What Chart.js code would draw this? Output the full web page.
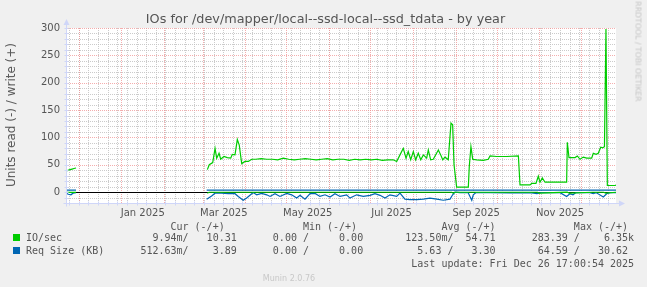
<!DOCTYPE html>
<html>
<head>
<meta charset="utf-8">
<title>IOs for /dev/mapper/local--ssd-local--ssd_tdata - by year</title>
<script src="https://cdn.jsdelivr.net/npm/chart.js@4.4.1/dist/chart.umd.min.js"></script>
<style>
    html, body { margin: 0; padding: 0; background: #f0f0f0; }
    #wrap { position: relative; width: 647px; height: 287px; overflow: hidden;
            font-family: "DejaVu Sans", sans-serif; color: #555; }
    #chart { position: absolute; left: 0; top: 0; }
    .title { position: absolute; left: 0; top: 11px; width: 651px; text-align: center;
             font-size: 12.8px; color: #555; }
    .ylabel { position: absolute; left: -89px; top: 108px; width: 200px; text-align: center;
              font-size: 12px; font-weight: normal; transform: rotate(-90deg); color: #5a5a5a; }
    .rrd { position: absolute; left: 583px; top: 47px; width: 110px; text-align: center;
           font-size: 7.8px; color: #c4c4c4; transform: rotate(90deg); }
    .leg { position: absolute; left: 26px; white-space: pre; font-family: "DejaVu Sans Mono", monospace;
           font-size: 10px; line-height: 12px; color: #555; }
    .sq { position: absolute; left: 13px; width: 7px; height: 7px; }
    .munin { position: absolute; left: 0; width: 578px; top: 274px; text-align: center;
             font-size: 8px; color: #c8c8c8; }
</style>
</head>
<body>
<div id="wrap">
    <canvas id="chart" width="647" height="287"></canvas>
    <div class="title">IOs for /dev/mapper/local--ssd-local--ssd_tdata - by year</div>
    <div class="ylabel">Units read (-) / write (+)</div>
    <div class="rrd">RRDTOOL / TOBI OETIKER</div>
    <div class="leg" id="legHead" style="top:221px"></div>
    <div class="sq" style="top:234px; background:#00cc00"></div>
    <div class="leg" id="legIo" style="top:232px"></div>
    <div class="sq" style="top:247px; background:#0066b3"></div>
    <div class="leg" id="legReq" style="top:245px"></div>
    <div class="leg" id="legUpd" style="top:258px"></div>
    <div class="munin">Munin 2.0.76</div>
</div>
<script>
// x values are days since the start of the graph (Nov 21 2024 17:00), 400 days to Dec 26 2025

// --------------------
// Data
// --------------------
const ioWriteDays = [
    0, 1.5, 2.9, 4.4, 5.8, 7.3, 50,
    102.8, 104.2, 106.7, 108.4, 109.6, 111.3, 112.5, 114.9, 117.3, 119.8, 120.9, 122.9,
    124.6, 126.0, 127.1, 127.8, 130.2, 132.6, 135.1,
    138, 142, 146, 150, 154, 158, 162, 166, 170, 174, 178, 182, 186, 190, 194, 198,
    202, 206, 210, 214, 218, 222, 226, 230, 234, 238, 240.5,
    242.9, 245.3, 247.3, 248.9, 250.7, 252.6, 254.3, 256.2, 258.0, 259.9, 262.3, 263.5,
    265.2, 267.1, 270.8, 272.5, 274.0, 275.6, 278.0, 280.0, 281.2, 282.2, 284.1,
    292.6, 293.3, 294.5, 295.8, 298.7, 303.5, 307.1, 308.4, 313.2, 320.5, 329.0, 330.2,
    337.5, 338.7, 341.8, 343.5, 344.7, 346.4, 348.4, 364.1, 364.6, 365.8, 370.2, 371.9,
    373.8, 376.2, 378.7, 382.3, 383.5, 385.5, 387.1, 388.9, 390.3, 391.6, 392.7, 393.7,
    399.3, 400
];
const ioWriteValues = [
    38, 40, 41, 42, 43, 44, null,
    41, 50, 54, 80, 62, 71, 60, 65, 63, 62, 69, 68,
    96, 86, 65, 52, 56, 56, 60,
    60, 61, 60, 60, 59, 62, 60, 59, 60, 61, 60, 59, 60, 61, 59, 60,
    60, 58, 60, 59, 60, 59, 60, 58, 59, 59, 56,
    68, 80, 62, 74, 59, 74, 59, 71, 59, 68, 62, 77,
    59, 60, 77, 68, 59, 64, 59, 126, 123, 50, 9,
    9, 47, 83, 60, 59, 58, 60, 66, 65, 65, 66, 13,
    13, 16, 16, 29, 18, 26, 18, 18, 91, 63, 63, 66,
    60, 64, 62, 62, 71, 69, 71, 82, 81, 83, 298, 12,
    12, 13
];

const ioReadDays = [0, 7.3, 50, 102.8, 104, 150, 200, 250, 280.5, 281.5, 283, 300, 343, 344, 364.5, 366, 383, 391, 392.5, 400];
const ioReadValues = [-0.5, -0.5, null, -2, -0.3, -0.3, -0.3, -0.3, -0.3, -2, -0.3, -0.3, -0.3, -2, -0.3, -2, -0.3, -0.3, -2, -0.3];

const reqWriteDays = [0, 7.3, 50, 102.3, 200, 300, 400];
const reqWriteValues = [3.6, 3.6, null, 3.6, 3.6, 3.6, 3.6];

const reqReadDays = [
    0, 1.7, 3.6, 5.1, 7.3, 50,
    102.3, 105.9, 108.4, 113.2, 118.0, 122.9, 125.3, 128.9, 131.4, 135.1, 136.2, 138.7,
    142.3, 146.0, 148.4, 152.0, 155.6, 160.5, 164.1, 167.8, 170.2, 173.8, 177.5, 181.1,
    184.7, 188.4, 192.0, 195.6, 199.3, 204.1, 206.5, 211.4, 216.2, 221.1, 224.7, 228.4,
    232.0, 235.6, 240.5, 242.9, 246.5, 250.2, 255.1, 259.9, 264.7, 269.6, 274.4, 279.3,
    281.2, 282.9, 286.5, 292.4, 295.1, 296.2, 298.2, 308.4, 322.9, 337.5, 342.5, 345.5,
    359.3, 364.1, 366.5, 368.7, 370.9, 381.1, 383.5, 385.5, 390.8, 393.2, 395.6, 400
];
const reqReadValues = [
    -2, -4, -5, -2, -1, null,
    -13, -7, -2, -2, -3, -3, -8, -15, -11, -3, -1, -5,
    -2.5, -5, -8, -3, -8, -2.5, -5, -11, -6, -13, -3, -2.5,
    -8, -5, -9, -3, -8, -5, -11, -5, -8, -6, -3, -6,
    -11, -5, -8, -2, -13, -14, -14, -13, -11, -13, -15, -13,
    -5, 0, -1, -1, -15, -5, -1, -1, -1.5, -1, -3, -1,
    -1, -8, -3, -5, -1, -1, -3, -1, -9, -3, -1, -1
];

// axis labels / grid positions
const monthLabels = ["Jan 2025", "Mar 2025", "May 2025", "Jul 2025", "Sep 2025", "Nov 2025"];
const monthLabelDays = [55.8, 114.8, 175.8, 236.8, 298.3, 359.3];
const monthStartDays = [9.29, 40.29, 71.29, 99.29, 130.29, 160.29, 191.29, 221.29, 252.29, 283.29, 313.29, 344.29, 374.29];
const firstSunday = 2.29;
const yTicks = [0, 50, 100, 150, 200, 250, 300];

// legend table
const legendHead = [[24, "Cur (-/+)"], [46, "Min (-/+)"], [69, "Avg (-/+)"], [91, "Max (-/+)"]];
const legendIo = [[0, "IO/sec"], [21, "9.94m/"], [30, "10.31"], [41, "0.00 /"], [52, "0.00"],
                  [63, "123.50m/"], [73, "54.71"], [84, "283.39 /"], [96, "6.35k"]];
const legendReq = [[0, "Req Size (KB)"], [19, "512.63m/"], [31, "3.89"], [41, "0.00 /"], [52, "0.00"],
                   [65, "5.63 /"], [74, "3.30"], [85, "64.59 /"], [95, "30.62"]];
const lastUpdate = [[64, "Last update: Fri Dec 26 17:00:54 2025"]];

function placeCols(items) {
    let s = "";
    items.forEach(([col, txt]) => {
        while (s.length < col) s += " ";
        s += txt;
    });
    return s;
}

document.getElementById("legHead").textContent = placeCols(legendHead);
document.getElementById("legIo").textContent = placeCols(legendIo);
document.getElementById("legReq").textContent = placeCols(legendReq);
document.getElementById("legUpd").textContent = placeCols(lastUpdate);

function pts(days, vals) {
    return days.map((d, i) => ({ x: d, y: vals[i] }));
}

// --------------------
// RRD style grid, zero line and axes
// --------------------
const rrdPlugin = {
    id: "rrdLook",
    beforeDatasetsDraw(chart) {
        const { ctx, chartArea: a, scales: { x, y } } = chart;
        const vline = px => { px = Math.round(px) + 0.5; ctx.beginPath(); ctx.moveTo(px, a.top); ctx.lineTo(px, a.bottom); ctx.stroke(); };
        const hline = py => { py = Math.round(py) + 0.5; ctx.beginPath(); ctx.moveTo(a.left, py); ctx.lineTo(a.right, py); ctx.stroke(); };
        ctx.save();
        ctx.fillStyle = "#ffffff";
        ctx.fillRect(a.left, a.top, a.right - a.left, a.bottom - a.top);
        ctx.lineWidth = 1;
        ctx.setLineDash([1, 1]);

        ctx.strokeStyle = "rgba(190,190,190,0.8)";
        for (let d = firstSunday; d < 400; d += 7) vline(x.getPixelForValue(d));
        for (let v = -10; v < 300; v += 10) {
            if (v % 50 !== 0) hline(y.getPixelForValue(v));
        }

        ctx.strokeStyle = "rgba(240,140,140,0.7)";
        monthStartDays.forEach(d => vline(x.getPixelForValue(d)));
        yTicks.forEach(v => hline(y.getPixelForValue(v)));

        // zero line
        ctx.setLineDash([]);
        ctx.strokeStyle = "#000000";
        hline(y.getPixelForValue(0));
        ctx.restore();
    },
    afterDraw(chart) {
        const { ctx, chartArea: a, scales: { x, y } } = chart;
        const left = Math.round(a.left) + 0.5;
        const bottom = Math.round(a.bottom) + 0.5;
        ctx.save();
        ctx.strokeStyle = "#cfd6f8";
        ctx.fillStyle = "#cfd6f8";
        ctx.lineWidth = 1;
        ctx.beginPath();
        ctx.moveTo(left, bottom + 3);
        ctx.lineTo(left, a.top - 4);
        ctx.moveTo(left - 3, bottom);
        ctx.lineTo(a.right + 4, bottom);
        // small ticks on the axes
        for (let v = -10; v <= 300; v += 10) {
            const py = Math.round(y.getPixelForValue(v)) + 0.5;
            ctx.moveTo(left - 2, py);
            ctx.lineTo(left + 2, py);
        }
        for (let d = firstSunday; d < 400; d += 7) {
            const px = Math.round(x.getPixelForValue(d)) + 0.5;
            ctx.moveTo(px, bottom - 2);
            ctx.lineTo(px, bottom + 2);
        }
        ctx.stroke();
        // arrows
        ctx.beginPath();
        ctx.moveTo(left - 3, a.top - 3);
        ctx.lineTo(left + 3, a.top - 3);
        ctx.lineTo(left, a.top - 9);
        ctx.closePath();
        ctx.fill();
        ctx.beginPath();
        ctx.moveTo(a.right + 3, bottom - 3);
        ctx.lineTo(a.right + 3, bottom + 3);
        ctx.lineTo(a.right + 9, bottom);
        ctx.closePath();
        ctx.fill();
        ctx.restore();
    }
};

// --------------------
// Chart
// --------------------
const ctx = document.getElementById("chart").getContext("2d");

new Chart(ctx, {
    type: "line",
    data: {
        datasets: [
            { label: "IO/sec write", data: pts(ioWriteDays, ioWriteValues), borderColor: "#00cc00" },
            { label: "IO/sec read", data: pts(ioReadDays, ioReadValues), borderColor: "#00cc00" },
            { label: "Req Size write", data: pts(reqWriteDays, reqWriteValues), borderColor: "#0066b3" },
            { label: "Req Size read", data: pts(reqReadDays, reqReadValues), borderColor: "#0066b3" }
        ]
    },
    options: {
        responsive: false,
        animation: false,
        devicePixelRatio: 1,
        spanGaps: false,
        layout: { padding: { left: 0, right: 31, top: 28, bottom: 68 } },
        elements: {
            point: { radius: 0 },
            line: { borderWidth: 1.2, tension: 0 }
        },
        plugins: {
            legend: { display: false },
            tooltip: { enabled: false }
        },
        scales: {
            x: {
                type: "linear",
                min: 0,
                max: 400,
                grid: { display: false, drawTicks: false },
                border: { display: false },
                afterBuildTicks: s => { s.ticks = monthLabelDays.map(v => ({ value: v })); },
                afterFit: s => { s.height = 16; },
                ticks: {
                    autoSkip: false,
                    maxRotation: 0,
                    padding: 4,
                    color: "#555",
                    font: { family: "DejaVu Sans", size: 10 },
                    callback: (v, i) => monthLabels[i]
                }
            },
            y: {
                min: -20,
                max: 300,
                grid: { display: false, drawTicks: false },
                border: { display: false },
                afterBuildTicks: s => { s.ticks = yTicks.map(v => ({ value: v })); },
                afterFit: s => { s.width = 66; },
                ticks: {
                    padding: 6,
                    color: "#555",
                    font: { family: "DejaVu Sans", size: 10 }
                }
            }
        }
    },
    plugins: [rrdPlugin]
});
</script>
</body>
</html>
